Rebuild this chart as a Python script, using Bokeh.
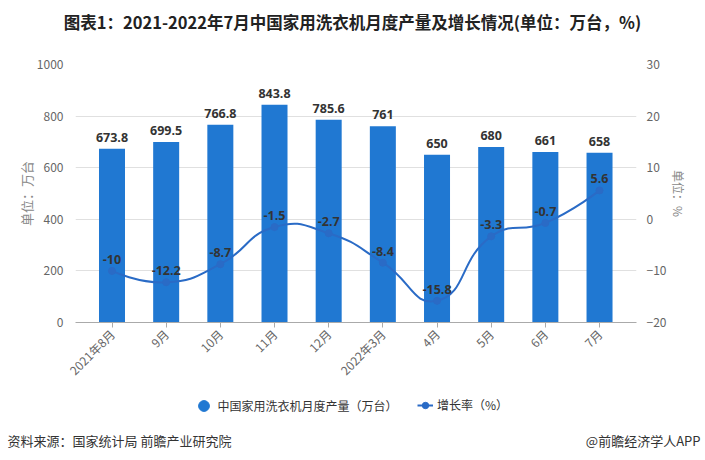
import numpy as np
from bokeh.plotting import figure
from bokeh.models import (ColumnDataSource, Range1d, LinearAxis, Label, LabelSet,
                          Legend, LegendItem, FixedTicker)
from bokeh.core.properties import value
from bokeh.embed import file_html
from bokeh.resources import INLINE

# ---------------- data ----------------
categories = ["2021年8月", "9月", "10月", "11月", "12月", "2022年3月", "4月", "5月", "6月", "7月"]
production = [673.8, 699.5, 766.8, 843.8, 785.6, 761, 650, 680, 661, 658]
growth = [-10, -12.2, -8.7, -1.5, -2.7, -8.4, -15.8, -3.3, -0.7, 5.6]
left_ticks = [0, 200, 400, 600, 800, 1000]
right_ticks = [-20, -10, 0, 10, 20, 30]
title_text = "图表1：2021-2022年7月中国家用洗衣机月度产量及增长情况(单位：万台，%)"
bar_name = "中国家用洗衣机月度产量（万台）"
line_name = "增长率（%）"
left_title = "单位：万台"
right_title = "单位：%"
source_text = "资料来源：国家统计局 前瞻产业研究院"
brand_text = "@前瞻经济学人APP"

# ---------------- layout ----------------
W = 705
TOP_H, MAIN_H, BOT_H = 40, 350, 70
FL, FR, FT, FB = 75, 636, 64, 322          # frame in page pixels
BAND = 54.17
FIRST = 111.5
x_start = (FL - FIRST) / BAND
x_end = (FR - FIRST) / BAND
Y0, Y1 = 0, 1000
R0, R1 = -20, 30
SY_R = (FB - FT) / (R1 - R0)

BAR_COLOR = "#2078d2"
LINE_COLOR = "#2a6bc6"
CJK = "Noto Sans CJK SC"
NUM = "Open Sans"

n = len(categories)
xs = np.arange(n, dtype=float)

# smooth (echarts-like) bezier control points, computed in pixel space
P = np.column_stack([xs * BAND, np.array(growth, dtype=float) * SY_R])
cp_in = P.copy()
cp_out = P.copy()
smooth = 0.5
for i in range(1, n - 1):
    v = P[i + 1] - P[i - 1]
    lp = np.hypot(*(P[i] - P[i - 1]))
    ln = np.hypot(*(P[i + 1] - P[i]))
    r = ln / (lp + ln)
    cp_in[i] = P[i] - v * smooth * (1 - r)
    cp_out[i] = P[i] + v * smooth * r

seg = ColumnDataSource(dict(
    x0=P[:-1, 0] / BAND, y0=P[:-1, 1] / SY_R,
    x1=P[1:, 0] / BAND, y1=P[1:, 1] / SY_R,
    cx0=cp_out[:-1, 0] / BAND, cy0=cp_out[:-1, 1] / SY_R,
    cx1=cp_in[1:, 0] / BAND, cy1=cp_in[1:, 1] / SY_R,
))

src = ColumnDataSource(dict(
    x=xs, prod=production, growth=growth,
    plab=[f"{v:g}" for v in production],
    glab=[f"{v:g}" for v in growth],
))


def blank(h):
    f = figure(width=W, height=h, x_range=Range1d(0, W), y_range=Range1d(h, 0),
               output_backend="svg", toolbar_location=None,
               min_border=0, x_axis_type=None, y_axis_type=None)
    f.outline_line_color = None
    f.xgrid.visible = False
    f.ygrid.visible = False
    f.border_fill_color = "white"
    f.background_fill_color = "white"
    return f


# ---------------- title figure ----------------
top = blank(TOP_H)
top.add_layout(Label(x=352, y=21, text=title_text, text_align="center",
                     text_baseline="middle", text_font=CJK, text_font_style="bold",
                     text_font_size="16.5px", text_color="#222222"))

# ---------------- main figure ----------------
p = figure(width=W, height=MAIN_H, x_range=Range1d(x_start, x_end), y_range=Range1d(Y0, Y1),
           output_backend="svg", toolbar_location=None,
           min_border_left=FL, min_border_right=W - FR,
           min_border_top=FT - TOP_H, min_border_bottom=TOP_H + MAIN_H - FB)
p.extra_y_ranges = {"right": Range1d(R0, R1)}
p.outline_line_color = None
p.background_fill_color = "white"
p.border_fill_color = "white"

p.xaxis.ticker = FixedTicker(ticks=list(range(n)))
p.xaxis.major_label_overrides = {i: c for i, c in enumerate(categories)}
p.xaxis.major_label_orientation = np.pi / 4
p.xaxis.axis_line_color = "#aaaaaa"
p.xaxis.major_tick_line_color = "#aaaaaa"
p.xaxis.major_tick_in = 0
p.xaxis.major_tick_out = 5
p.xaxis.minor_tick_line_color = None
p.xaxis.major_label_text_font = CJK
p.xaxis.major_label_text_font_size = "12px"
p.xaxis.major_label_text_color = "#666666"
p.xaxis.major_label_standoff = 4

p.yaxis.ticker = FixedTicker(ticks=left_ticks)
p.yaxis.axis_line_color = None
p.yaxis.major_tick_line_color = None
p.yaxis.minor_tick_line_color = None
p.yaxis.major_label_text_font = CJK
p.yaxis.major_label_text_font_size = "12px"
p.yaxis.major_label_text_color = "#666666"
p.yaxis.major_label_standoff = 6
p.yaxis.axis_label = left_title
p.yaxis.axis_label_standoff = -2
p.yaxis.axis_label_text_font = CJK
p.yaxis.axis_label_text_font_style = "normal"
p.yaxis.axis_label_text_font_size = "13px"
p.yaxis.axis_label_text_color = "#888888"

ra = LinearAxis(y_range_name="right", ticker=FixedTicker(ticks=right_ticks))
ra.axis_line_color = None
ra.major_tick_line_color = None
ra.minor_tick_line_color = None
ra.major_label_text_font = CJK
ra.major_label_text_font_size = "12px"
ra.major_label_text_color = "#666666"
ra.major_label_standoff = 4
ra.axis_label = right_title
ra.axis_label_standoff = 1
ra.axis_label_text_font = CJK
ra.axis_label_text_font_style = "normal"
ra.axis_label_text_font_size = "12px"
ra.axis_label_text_color = "#888888"
p.add_layout(ra, "right")

p.xgrid.grid_line_color = None
p.ygrid.grid_line_color = "#e0e0e0"

p.vbar(x="x", top="prod", width=0.48, source=src, fill_color=BAR_COLOR, line_color=None)

p.bezier(x0="x0", y0="y0", x1="x1", y1="y1", cx0="cx0", cy0="cy0", cx1="cx1", cy1="cy1",
         source=seg, line_color=LINE_COLOR, line_width=2, y_range_name="right")
p.scatter(x="x", y="growth", source=src, size=7, fill_color=LINE_COLOR,
          line_color=LINE_COLOR, y_range_name="right")

p.add_layout(LabelSet(x="x", y="prod", text="plab", source=src, y_offset=7,
                      text_align="center", text_baseline="alphabetic",
                      text_font=value(NUM), text_font_style="bold",
                      text_font_size="12.5px", text_color="#333333"))
p.add_layout(LabelSet(x="x", y="growth", text="glab", source=src, y_offset=7,
                      y_range_name="right",
                      text_align="center", text_baseline="alphabetic",
                      text_font=value(NUM), text_font_style="bold",
                      text_font_size="12.5px", text_color="#333333"))

# ---------------- legend + footer figure ----------------
bot = blank(BOT_H)
off = ColumnDataSource(dict(x=[-1000, -999], y=[-1000, -999]))   # legend-only renderers (off canvas)
leg_circle = bot.scatter(x="x", y="y", source=off, marker="circle",
                         fill_color=BAR_COLOR, line_color=BAR_COLOR)
leg_line = bot.line(x="x", y="y", source=off, line_color=LINE_COLOR, line_width=2)
leg_mark = bot.scatter(x="x", y="y", source=off, marker="circle",
                       fill_color=LINE_COLOR, line_color=LINE_COLOR)

lg1 = Legend(items=[LegendItem(label=bar_name, renderers=[leg_circle])],
             location=(189.5, BOT_H - 28.5), orientation="horizontal",
             glyph_width=27, glyph_height=27, label_standoff=1,
             padding=0, margin=0, border_line_color=None, background_fill_alpha=0,
             label_text_font=CJK, label_text_font_size="12px", label_text_color="#333333")
lg2 = Legend(items=[LegendItem(label=line_name, renderers=[leg_line, leg_mark])],
             location=(417, BOT_H - 23), orientation="horizontal",
             glyph_width=16, glyph_height=16, label_height=16, label_standoff=4,
             padding=0, margin=0, border_line_color=None, background_fill_alpha=0,
             label_text_font=CJK, label_text_font_size="12px", label_text_color="#333333")
lg1.click_policy = "none"
lg2.click_policy = "none"
bot.add_layout(lg1, "center")
bot.add_layout(lg2, "center")

bot.add_layout(Label(x=7, y=50, text=source_text, text_align="left",
                     text_baseline="middle", text_font=CJK,
                     text_font_size="13px", text_color="#333333"))
bot.add_layout(Label(x=700, y=50, text=brand_text, text_align="right",
                     text_baseline="middle", text_font=CJK,
                     text_font_size="13px", text_color="#333333"))

open("out.html", "w").write(file_html([top, p, bot], INLINE))
